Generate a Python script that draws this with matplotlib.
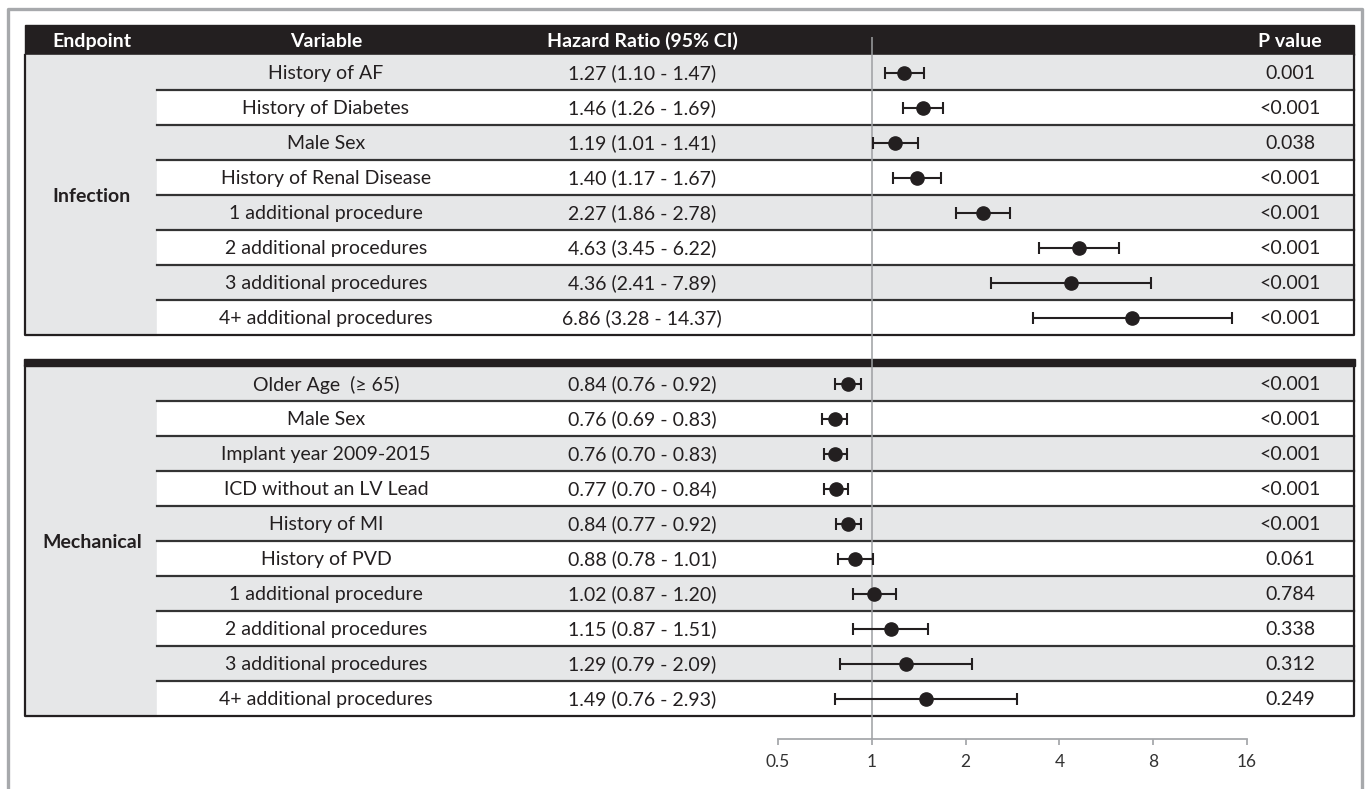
import numpy as np
import matplotlib
matplotlib.use("Agg")
import matplotlib.pyplot as plt
from matplotlib.patches import Rectangle
from matplotlib.ticker import FixedLocator, NullLocator

plt.rcParams['font.family'] = ['Lato', 'DejaVu Sans']

# infection endpoint
inf_vars = ["History of AF", "History of Diabetes", "Male Sex", "History of Renal Disease",
            "1 additional procedure", "2 additional procedures", "3 additional procedures",
            "4+ additional procedures"]
inf_hr = [1.27, 1.46, 1.19, 1.40, 2.27, 4.63, 4.36, 6.86]
inf_lo = [1.10, 1.26, 1.01, 1.17, 1.86, 3.45, 2.41, 3.28]
inf_hi = [1.47, 1.69, 1.41, 1.67, 2.78, 6.22, 7.89, 14.37]
inf_p = ["0.001", "<0.001", "0.038", "<0.001", "<0.001", "<0.001", "<0.001", "<0.001"]

# mechanical endpoint
mech_vars = ["Older Age  (\u2265 65)", "Male Sex", "Implant year 2009-2015", "ICD without an LV Lead",
             "History of MI", "History of PVD", "1 additional procedure", "2 additional procedures",
             "3 additional procedures", "4+ additional procedures"]
mech_hr = [0.84, 0.76, 0.76, 0.77, 0.84, 0.88, 1.02, 1.15, 1.29, 1.49]
mech_lo = [0.76, 0.69, 0.70, 0.70, 0.77, 0.78, 0.87, 0.87, 0.79, 0.76]
mech_hi = [0.92, 0.83, 0.83, 0.84, 0.92, 1.01, 1.20, 1.51, 2.09, 2.93]
mech_p = ["<0.001", "<0.001", "<0.001", "<0.001", "<0.001", "0.061", "0.784", "0.338", "0.312", "0.249"]

headers = ["Endpoint", "Variable", "Hazard Ratio (95% CI)", "P value"]
axis_ticks = [0.5, 1, 2, 4, 8, 16]

W, H = 1371, 789
DARK = "#231f20"
GREY = "#e6e7e8"

fig = plt.figure(figsize=(W / 100, H / 100), dpi=100)
tab = fig.add_axes([0, 0, 1, 1])
tab.set_xlim(0, W)
tab.set_ylim(H, 0)
tab.axis("off")

# outer frame (left, top, right)
tab.plot([7.5, 7.5, 1361.5, 1361.5], [H, 8.5, 8.5, H], color="#a7a9ac", lw=2.4)

X0, X1, XVAR = 25, 1354, 157
ROW_H = 35.0
col_x = {"end": 92, "var": 326, "hr": 642, "p": 1290}
FS = 14

# header band
tab.add_patch(Rectangle((X0, 25), X1 - X0, 30, color=DARK, zorder=1))
for name, x in zip(headers, [col_x["end"], col_x["var"], col_x["hr"], col_x["p"]]):
    tab.text(x, 41, name, color="white", fontsize=FS, fontweight="bold",
             ha="center", va="center", zorder=3)

sections = [
    ("Infection", 55.0, inf_vars, inf_hr, inf_lo, inf_hi, inf_p),
    ("Mechanical", 366.0, mech_vars, mech_hr, mech_lo, mech_hi, mech_p),
]

row_centers = []
for label, top, names, hr, lo, hi, pv in sections:
    n = len(names)
    bottom = top + n * ROW_H
    # endpoint column
    tab.add_patch(Rectangle((X0, top), XVAR - X0, n * ROW_H, color=GREY, zorder=1))
    tab.text(col_x["end"], (top + bottom) / 2 + 1, label, fontsize=FS, fontweight="bold",
             color=DARK, ha="center", va="center", zorder=3)
    centers = []
    for i in range(n):
        y0 = top + i * ROW_H
        yc = y0 + ROW_H / 2
        centers.append(yc)
        tab.add_patch(Rectangle((XVAR, y0), X1 - XVAR, ROW_H,
                                color=GREY if i % 2 == 0 else "white", zorder=1))
        if i > 0:
            tab.plot([XVAR, X1], [y0, y0], color="#333333", lw=1.6, zorder=2)
        tab.text(col_x["var"], yc + 1, names[i], fontsize=FS, color=DARK,
                 ha="center", va="center", zorder=3)
        tab.text(col_x["hr"], yc + 1, f"{hr[i]:.2f} ({lo[i]:.2f} - {hi[i]:.2f})", fontsize=FS,
                 color=DARK, ha="center", va="center", zorder=3)
        tab.text(col_x["p"], yc + 1, pv[i], fontsize=FS, color=DARK,
                 ha="center", va="center", zorder=3)
    row_centers.append(centers)
    # section outline
    tab.plot([X0, X0, X1, X1], [top, bottom, bottom, top], color=DARK, lw=1.6, zorder=4)

# heavy rule on top of the mechanical block
tab.add_patch(Rectangle((X0 - 0.8, 359), X1 - X0 + 1.6, 7, color=DARK, zorder=4))

# forest plot on a log2 scale
AX_L, AX_R, AX_TOP, AX_BOT = 778, 1247, 37, 739
fx = fig.add_axes([AX_L / W, 1 - AX_BOT / H, (AX_R - AX_L) / W, (AX_BOT - AX_TOP) / H])
fx.set_xscale("log", base=2)
fx.set_xlim(0.5, 16)
fx.set_ylim(AX_BOT, AX_TOP)
fx.patch.set_alpha(0)
for s in ["top", "left", "right"]:
    fx.spines[s].set_visible(False)
fx.spines["bottom"].set_color("#a7a9ac")
fx.spines["bottom"].set_linewidth(1.3)
fx.yaxis.set_major_locator(NullLocator())
fx.xaxis.set_major_locator(FixedLocator(axis_ticks))
fx.xaxis.set_minor_locator(NullLocator())
fx.set_xticklabels([f"{t:g}" for t in axis_ticks], fontsize=12.5, color="#333333")
fx.tick_params(axis="x", direction="out", length=4, width=1.3, color="#a7a9ac", pad=7)

fx.axvline(1, color="#9d9fa2", lw=1.1, zorder=5)

for (label, top, names, hr, lo, hi, pv), centers in zip(sections, row_centers):
    hr = np.array(hr)
    err = [hr - np.array(lo), np.array(hi) - hr]
    fx.errorbar(hr, centers, xerr=err, fmt="o", color=DARK, ms=9.5, elinewidth=1.5,
                capsize=4, capthick=1.5, clip_on=False, zorder=6)

fig.savefig("out.png", dpi=100)
